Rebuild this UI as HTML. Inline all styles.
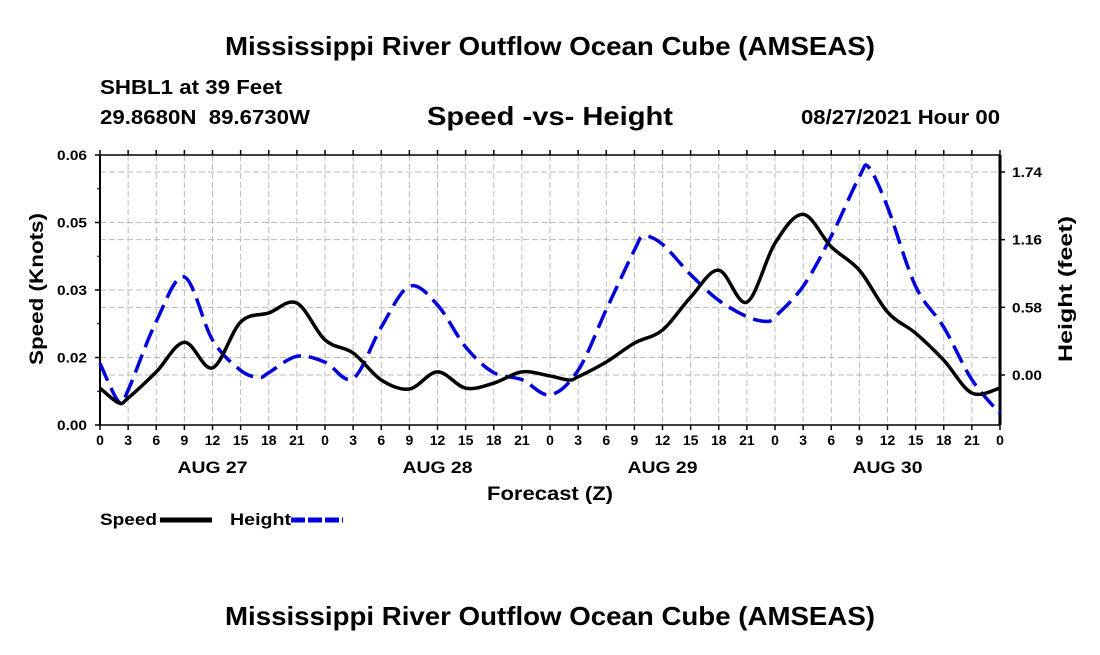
<!DOCTYPE html>
<html><head><meta charset="utf-8"><style>
body{margin:0;background:#fff;width:1100px;height:650px;overflow:hidden}
svg text{font-family:"Liberation Sans",Arial,sans-serif;font-weight:bold;fill:#000;white-space:pre}
</style></head><body>
<svg id="chart" width="1100" height="650" xmlns="http://www.w3.org/2000/svg">
<text x="550" y="55" font-size="26" text-anchor="middle" textLength="650" lengthAdjust="spacingAndGlyphs">Mississippi River Outflow Ocean Cube (AMSEAS)</text>
<text x="100" y="94" font-size="20" textLength="182" lengthAdjust="spacingAndGlyphs">SHBL1 at 39 Feet</text>
<text x="100" y="124" font-size="20" textLength="210" lengthAdjust="spacingAndGlyphs">29.8680N  89.6730W</text>
<text x="550" y="125" font-size="26" text-anchor="middle" textLength="246" lengthAdjust="spacingAndGlyphs">Speed -vs- Height</text>
<text x="1000" y="124" font-size="20" text-anchor="end" textLength="199" lengthAdjust="spacingAndGlyphs">08/27/2021 Hour 00</text>
<g id="grid"></g>
<g id="axes"></g>
<g id="series"></g>
<text x="0" y="0" font-size="19" text-anchor="middle" textLength="152" lengthAdjust="spacingAndGlyphs" transform="translate(43,289) rotate(-90)">Speed (Knots)</text>
<text x="0" y="0" font-size="19" text-anchor="middle" textLength="146" lengthAdjust="spacingAndGlyphs" transform="translate(1072,289) rotate(-90)">Height (feet)</text>
<text x="550" y="500" font-size="19" text-anchor="middle" textLength="126" lengthAdjust="spacingAndGlyphs">Forecast (Z)</text>
<g>
<text x="100" y="525" font-size="17" textLength="57" lengthAdjust="spacingAndGlyphs">Speed</text>
<line x1="160" y1="520" x2="212" y2="520" stroke="#000" stroke-width="5"/>
<text x="230" y="525" font-size="17" textLength="61" lengthAdjust="spacingAndGlyphs">Height</text>
<line x1="291" y1="520" x2="343" y2="520" stroke="#0000dd" stroke-width="5" stroke-dasharray="14,3"/>
</g>
<text x="550" y="625" font-size="26" text-anchor="middle" textLength="650" lengthAdjust="spacingAndGlyphs">Mississippi River Outflow Ocean Cube (AMSEAS)</text>
</svg>
<script>
const speedHours=[0,2,3,6,9,12,15,18,21,24,27,30,33,36,39,42,45,48,50,51,54,57,60,63,66,69,72,75,78,81,84,87,90,93,96];
const speedValues=[.0082,.0049,.0060,.0118,.0184,.0127,.0229,.0249,.0271,.0189,.0160,.0100,.0080,.0118,.0082,.0093,.0118,.0109,.0100,.0107,.0140,.0182,.0211,.0284,.0344,.0273,.0404,.0468,.0396,.0344,.0251,.0204,.0144,.0071,.0082];
const heightHours=[0,2,3,6,9,12,15,17,18,21,24,27,30,33,36,39,42,45,48,51,54,57,58,60,63,66,69,71,72,75,78,81,82,84,87,90,93,96];
const heightValues=[.10,-.23,-.13,.46,.84,.30,.04,-.02,.02,.16,.11,-.03,.41,.76,.60,.24,.02,-.04,-.17,.04,.56,1.07,1.19,1.12,.86,.64,.50,.46,.50,.76,1.19,1.70,1.78,1.44,.76,.41,-.04,-.33];
const leftTickValues=[0,0.015,0.03,0.045,0.06];
const leftTickLabels=["0.00","0.02","0.03","0.05","0.06"];
const rightTickValues=[0,0.58,1.16,1.74];
const rightTickLabels=["0.00","0.58","1.16","1.74"];
const dayLabels=["AUG 27","AUG 28","AUG 29","AUG 30"];

const X0=100,X1=1000,YT=155,YB=425;
const NS="http://www.w3.org/2000/svg";
const xs=h=>X0+h*(X1-X0)/96;
const ys=v=>YB-v*(YB-YT)/0.06;
const yh=v=>375-v*(375-172)/1.74;
function mk(tag,attrs,parent){const e=document.createElementNS(NS,tag);for(const k in attrs)e.setAttribute(k,attrs[k]);parent.appendChild(e);return e;}
const grid=document.getElementById('grid'),axes=document.getElementById('axes'),series=document.getElementById('series');
for(let h=3;h<96;h+=3){const l=mk('line',{x1:xs(h),x2:xs(h),y1:YT,y2:YB,stroke:'#bbb','stroke-width':1,'stroke-dasharray':'6,3'},grid);

}
const hg=[ys(0.015),ys(0.03),ys(0.045),ys(0.06)].concat(rightTickValues.map(yh));
hg.forEach(y=>{if(y>YT+1&&y<YB-1){const l=mk('line',{x1:X0,x2:X1,y1:y,y2:y,stroke:'#bbb','stroke-width':1,'stroke-dasharray':'6,3'},grid);

}});
mk('line',{x1:X0,x2:X1,y1:YT,y2:YT,stroke:'#000','stroke-width':1.5},axes);
mk('line',{x1:X0,x2:X1,y1:YB,y2:YB,stroke:'#000','stroke-width':1.5},axes);
mk('line',{x1:X0,x2:X0,y1:YT,y2:YB,stroke:'#000','stroke-width':2},axes);
mk('line',{x1:X1,x2:X1,y1:YT,y2:YB,stroke:'#000','stroke-width':3},axes);
leftTickValues.forEach((v,i)=>{const y=ys(v);mk('line',{x1:X0-5,x2:X0,y1:y,y2:y,stroke:'#000','stroke-width':1.5},axes);
const t=mk('text',{x:X0-13,y:y+5,'font-size':14,'text-anchor':'end',textLength:30,lengthAdjust:'spacingAndGlyphs'},axes);t.textContent=leftTickLabels[i];


if(i<4){const ym=ys(v+0.0075);mk('line',{x1:X0-3,x2:X0,y1:ym,y2:ym,stroke:'#000','stroke-width':1},axes);}});
rightTickValues.forEach((v,i)=>{const y=yh(v);mk('line',{x1:X1,x2:X1+5,y1:y,y2:y,stroke:'#000','stroke-width':1.5},axes);
const t=mk('text',{x:X1+12,y:y+5,'font-size':14,textLength:30,lengthAdjust:'spacingAndGlyphs'},axes);t.textContent=rightTickLabels[i];

});
for(let h=0;h<=96;h+=3){const x=xs(h);mk('line',{x1:x,x2:x,y1:YB,y2:YB+5,stroke:'#000','stroke-width':1.5},axes);mk('line',{x1:x,x2:x,y1:YT-5,y2:YT,stroke:'#000','stroke-width':1.5},axes);
const t=mk('text',{x:x,y:YB+20,'font-size':14,'text-anchor':'middle'},axes);t.textContent=String(h%24);

}
dayLabels.forEach((d,i)=>{const t=mk('text',{x:xs(i*24+12),y:YB+48,'font-size':17,'text-anchor':'middle',textLength:70,lengthAdjust:'spacingAndGlyphs'},axes);t.textContent=d;

});
function smooth(pts){let d=`M${pts[0][0]},${pts[0][1]}`;for(let i=0;i<pts.length-1;i++){const p0=pts[Math.max(0,i-1)],p1=pts[i],p2=pts[i+1],p3=pts[Math.min(pts.length-1,i+2)];
const c1=[p1[0]+(p2[0]-p0[0])/6,p1[1]+(p2[1]-p0[1])/6],c2=[p2[0]-(p3[0]-p1[0])/6,p2[1]-(p3[1]-p1[1])/6];
d+=` C${c1[0]},${c1[1]} ${c2[0]},${c2[1]} ${p2[0]},${p2[1]}`;}return d;}
const hp=mk('path',{d:smooth(heightHours.map((h,i)=>[xs(h),yh(heightValues[i])])),fill:'none',stroke:'#0000dd','stroke-width':3.5,'stroke-dasharray':'19,8'},series);


const sp=mk('path',{d:smooth(speedHours.map((h,i)=>[xs(h),ys(speedValues[i])])),fill:'none',stroke:'#000','stroke-width':3.5},series);


</script>
</body></html>
